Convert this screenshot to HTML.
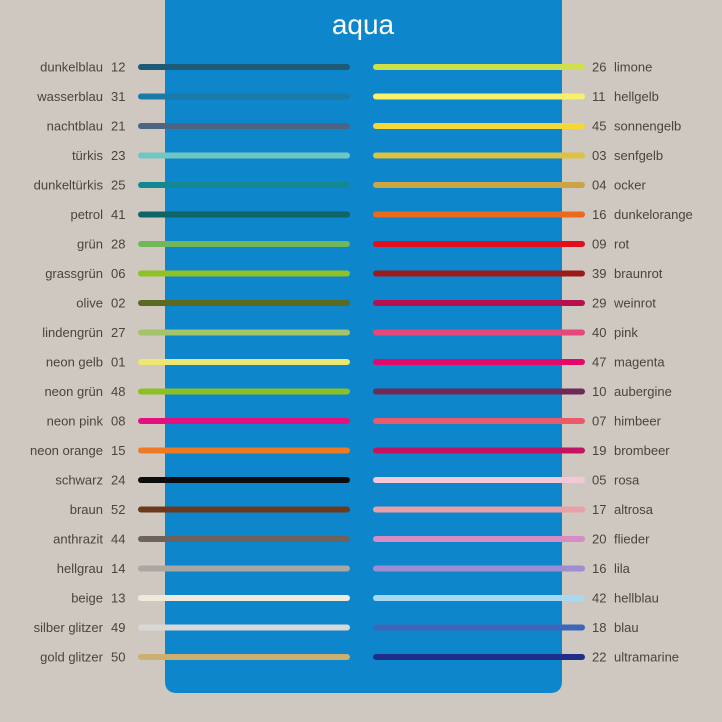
<!DOCTYPE html>
<html><head><meta charset="utf-8"><style>
body{margin:0;background:#cec8c0;}
svg{display:block;font-family:"Liberation Sans",sans-serif;}
</style></head><body>
<svg id="chart" width="722" height="722">
<rect width="722" height="722" fill="#cec8c0"/>
<path d="M165 0 H562 V681 Q562 693 550 693 H177 Q165 693 165 681 Z" fill="#0d86cc"/>
<text x="363" y="34" fill="#fff" font-size="28" text-anchor="middle">aqua</text>
<g id="rows"></g>
</svg>
<script>
const leftNames=["dunkelblau","wasserblau","nachtblau","türkis","dunkeltürkis","petrol","grün","grassgrün","olive","lindengrün","neon gelb","neon grün","neon pink","neon orange","schwarz","braun","anthrazit","hellgrau","beige","silber glitzer","gold glitzer"];
const leftNums=["12","31","21","23","25","41","28","06","02","27","01","48","08","15","24","52","44","14","13","49","50"];
const leftColors=["#1d5a78","#1a7aa8","#4e6483","#6ec7c2","#148892","#0e6467","#6fb758","#90c225","#5a6a22","#a3c46a","#ece770","#8cc126","#e3117f","#ef7a24","#0c0c0c","#6b3a1e","#6d625c","#aaa7a2","#efeadb","#d8d8d8","#cdb070"];
const rightNames=["limone","hellgelb","sonnengelb","senfgelb","ocker","dunkelorange","rot","braunrot","weinrot","pink","magenta","aubergine","himbeer","brombeer","rosa","altrosa","flieder","lila","hellblau","blau","ultramarine"];
const rightNums=["26","11","45","03","04","16","09","39","29","40","47","10","07","19","05","17","20","16","42","18","22"];
const rightColors=["#cfe04a","#f8f16b","#f5d737","#dcc241","#cda445","#eb6a1c","#e30e1e","#9b1b1d","#b5104f","#e6487b","#e3096b","#6e2a56","#ea5a6a","#c31462","#f4c8d6","#e9a0a8","#d78cc3","#9c8ed0","#a9d9f2","#3c67b8","#1f2e88"];
const g=document.getElementById('rows');
const NS="http://www.w3.org/2000/svg";
function y(i){return 67+i*29.5;}
function mk(tag,attrs,txt){const e=document.createElementNS(NS,tag);for(const k in attrs)e.setAttribute(k,attrs[k]);if(txt!==undefined)e.textContent=txt;g.appendChild(e);return e;}
for(let i=0;i<leftNames.length;i++){
  const yy=y(i);
  let t=mk('text',{x:103,y:yy+4.5,'font-size':13,fill:'#4a4440','text-anchor':'end'},leftNames[i]);
  
  
  t=mk('text',{x:111,y:yy+4.5,'font-size':13,fill:'#4a4440'},leftNums[i]);
  
  
  const l=mk('line',{x1:141,x2:347,y1:yy,y2:yy,stroke:leftColors[i],'stroke-width':6,'stroke-linecap':'round'});
  if(i>=19)l.setAttribute('stroke-dasharray','2 1');
  
  
  t=mk('text',{x:592,y:yy+4.5,'font-size':13,fill:'#4a4440'},rightNums[i]);
  
  
  t=mk('text',{x:614,y:yy+4.5,'font-size':13,fill:'#4a4440'},rightNames[i]);
  
  
  const r=mk('line',{x1:376,x2:582,y1:yy,y2:yy,stroke:rightColors[i],'stroke-width':6,'stroke-linecap':'round'});
  
  
}
</script>
</body></html>
